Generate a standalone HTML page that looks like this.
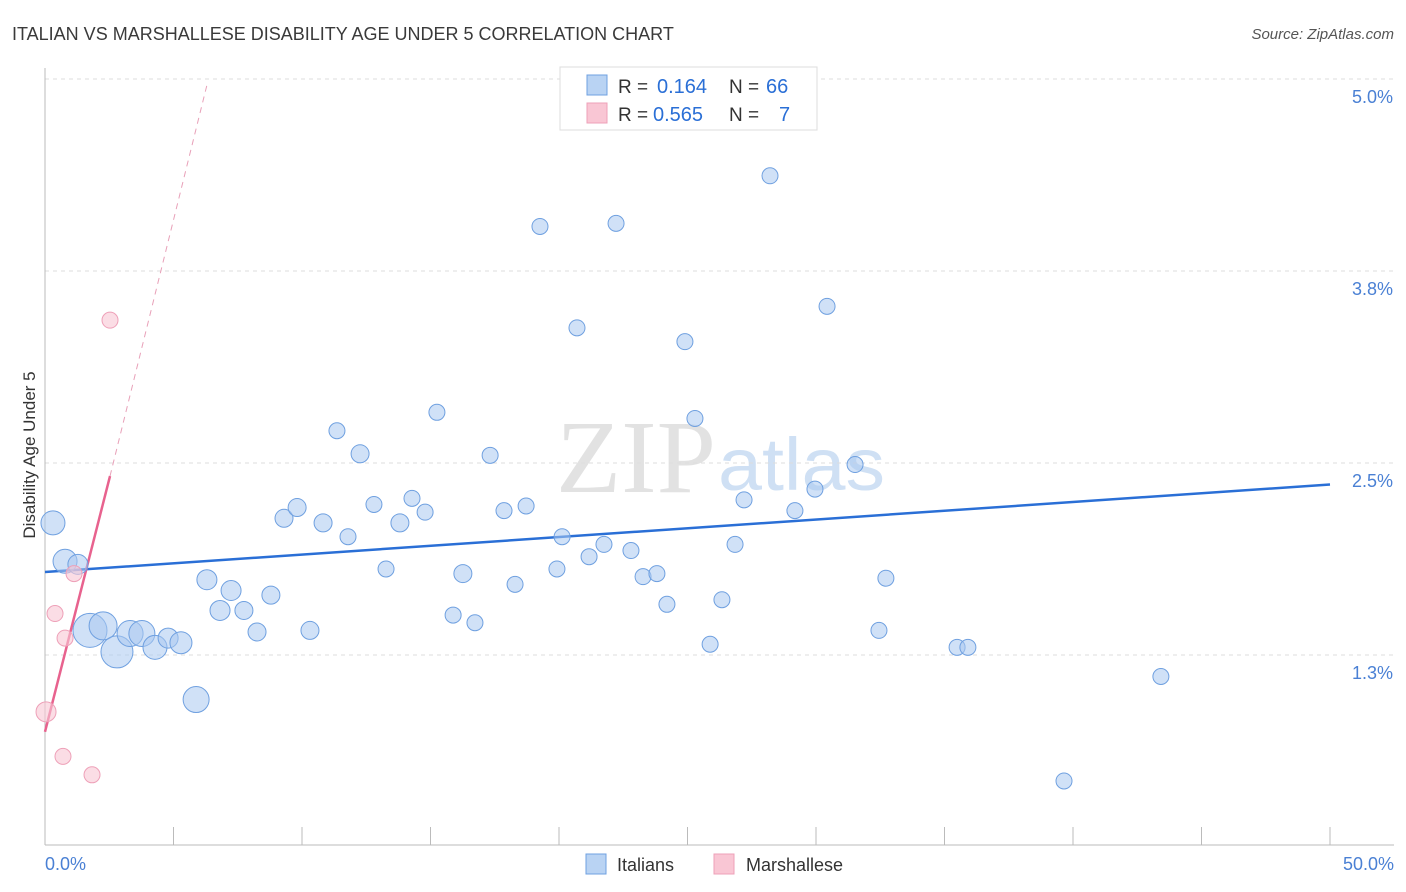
<!DOCTYPE html>
<html><head><meta charset="utf-8">
<style>
body{margin:0;background:#fff;font-family:"Liberation Sans",sans-serif;}
#wrap{position:relative;width:1406px;height:892px;overflow:hidden;}
</style></head>
<body>
<div id="wrap">
<svg id="chart" width="1406" height="892" xmlns="http://www.w3.org/2000/svg">
<text x="12" y="40" font-size="18" fill="#3a3a3a">ITALIAN VS MARSHALLESE DISABILITY AGE UNDER 5 CORRELATION CHART</text>
<text x="1394" y="39" font-size="15" font-style="italic" fill="#555" text-anchor="end">Source: ZipAtlas.com</text>
<text x="716" y="492" font-size="104" font-family="Liberation Serif,serif" fill="#e2e2e2" text-anchor="end" textLength="160" lengthAdjust="spacingAndGlyphs">ZIP</text>
<text x="718" y="490" font-size="74" fill="#cfe0f4" textLength="167" lengthAdjust="spacingAndGlyphs">atlas</text>
<g id="grid"></g>
<g id="axes"></g>
<g id="lines"></g>
<g id="pts"></g>
<text x="35" y="455" font-size="17" fill="#333" text-anchor="middle" transform="rotate(-90 35 455)">Disability Age Under 5</text>
<g>
<rect x="560" y="67" width="257" height="63" fill="#fff" stroke="#ddd"/>
<rect x="587" y="75" width="20" height="20" fill="#b9d3f3" stroke="#6fa0e0"/>
<rect x="587" y="103" width="20" height="20" fill="#f9c6d4" stroke="#eea0b8"/>
<text x="618" y="93" font-size="19" fill="#333">R =</text>
<text x="657" y="93" font-size="20" fill="#2a6fd6">0.164</text>
<text x="729" y="93" font-size="19" fill="#333">N =</text>
<text x="766" y="93" font-size="20" fill="#2a6fd6">66</text>
<text x="618" y="121" font-size="19" fill="#333">R =</text>
<text x="653" y="121" font-size="20" fill="#2a6fd6">0.565</text>
<text x="729" y="121" font-size="19" fill="#333">N =</text>
<text x="779" y="121" font-size="20" fill="#2a6fd6">7</text>
</g>
<g>
<rect x="586" y="854" width="20" height="20" fill="#b9d3f3" stroke="#6fa0e0"/>
<text x="617" y="871" font-size="18" fill="#333">Italians</text>
<rect x="714" y="854" width="20" height="20" fill="#f9c6d4" stroke="#eea0b8"/>
<text x="746" y="871" font-size="18" fill="#333">Marshallese</text>
</g>
</svg>
</div>
<script>
const yTicks=[1.25,2.5,3.75,5.0];
const yTickLabels=["1.3%","2.5%","3.8%","5.0%"];
const xTickLabels=["0.0%","50.0%"];
const italiansX=[0.31,0.78,1.28,1.75,2.26,2.8,3.31,3.77,4.28,4.79,5.29,5.88,6.30,6.81,7.24,7.74,8.25,8.79,9.30,9.81,10.31,10.82,11.36,11.79,12.26,12.80,13.27,13.81,14.28,14.79,15.25,15.88,16.26,16.73,17.32,17.86,18.29,18.72,19.26,19.92,20.12,20.70,21.17,21.75,22.22,22.80,23.27,23.81,24.2,24.90,25.29,25.88,26.34,26.85,27.2,28.21,29.18,29.96,30.43,31.52,32.45,32.72,35.49,35.91,39.65,43.42];
const italiansY=[2.11,1.86,1.84,1.41,1.44,1.27,1.39,1.39,1.30,1.36,1.33,0.96,1.74,1.54,1.67,1.54,1.40,1.64,2.14,2.21,1.41,2.11,2.71,2.02,2.56,2.23,1.81,2.11,2.27,2.18,2.83,1.51,1.78,1.46,2.55,2.19,1.71,2.22,4.04,1.81,2.02,3.38,1.89,1.97,4.06,1.93,1.76,1.78,1.58,3.29,2.79,1.32,1.61,1.97,2.26,4.37,2.19,2.33,3.52,2.49,1.41,1.75,1.30,1.30,0.43,1.11];
const italiansSize=[12,12,10,17,14,16,13,13,12,10,11,13,10,10,10,9,9,9,9,9,9,9,8,8,9,8,8,9,8,8,8,8,9,8,8,8,8,8,8,8,8,8,8,8,8,8,8,8,8,8,8,8,8,8,8,8,8,8,8,8,8,8,8,8,8,8];
const marshX=[2.53,0.39,0.78,1.13,0.04,0.70,1.83];
const marshY=[3.43,1.52,1.36,1.78,0.88,0.59,0.47];
const marshSize=[8,8,8,8,10,8,8];
const blueTrend=[[0,1.79],[50,2.36]];
const pinkTrend=[[0,0.75],[2.53,2.415]];
const pinkDash=[[2.53,2.415],[6.30,4.96]];

const NS="http://www.w3.org/2000/svg";
const X=v=>45+v*25.7;
const Y=v=>655-(v-1.25)*153.6;
function mk(tag,attrs,parent){const e=document.createElementNS(NS,tag);for(const k in attrs)e.setAttribute(k,attrs[k]);parent.appendChild(e);return e;}
const grid=document.getElementById('grid'),axes=document.getElementById('axes'),lines=document.getElementById('lines'),pts=document.getElementById('pts');
yTicks.forEach((t,i)=>{
  const l=mk('line',{x1:45,x2:1394,y1:Y(t),y2:Y(t),stroke:'#ddd','stroke-dasharray':'4,4'},grid);
  
  
  const tx=mk('text',{x:1393,y:Y(t)+24,'font-size':18,fill:'#4a80d4','text-anchor':'end'},axes);
  tx.textContent=yTickLabels[i];
  
  
});
const ax=mk('line',{x1:45,x2:1394,y1:845,y2:845,stroke:'#bbb'},axes);


const ay=mk('line',{x1:45,x2:45,y1:68,y2:845,stroke:'#bbb'},axes);


for(let i=0;i<=10;i++){
  const t=mk('line',{x1:X(i*5),x2:X(i*5),y1:827,y2:845,stroke:'#bbb'},axes);
  
  
}
[[0,'start',45],[50,'end',1394]].forEach((d,i)=>{
  const tx=mk('text',{x:d[2],y:870,'font-size':18,fill:'#4a80d4','text-anchor':d[1]},axes);
  tx.textContent=xTickLabels[i];
  
  
});
function seg(p,st,name,dash){
  const a={x1:X(p[0][0]),y1:Y(p[0][1]),x2:X(p[1][0]),y2:Y(p[1][1]),stroke:st,'stroke-width':dash?1:2.5};
  if(dash)a['stroke-dasharray']='6,5';
  const l=mk('line',a,lines);
  
  
}
function dots(xs,ys,ss,fill,stroke,name){
  xs.forEach((x,i)=>{
    const c=mk('circle',{cx:X(x),cy:Y(ys[i]),r:ss[i],fill:fill,stroke:stroke,'stroke-width':1},pts);
    
    
  });
}
dots(italiansX,italiansY,italiansSize,'rgba(169,200,240,0.55)','#6fa0e0','italians-point');
dots(marshX,marshY,marshSize,'rgba(249,198,212,0.6)','#eea0b8','marshallese-point');
seg(blueTrend,'#2a6fd6','italians-trend-line',false);
seg(pinkTrend,'#e8628e','marshallese-trend-line',false);
seg(pinkDash,'#e8a0b8','marshallese-trend-extension',true);
</script>
</body></html>
